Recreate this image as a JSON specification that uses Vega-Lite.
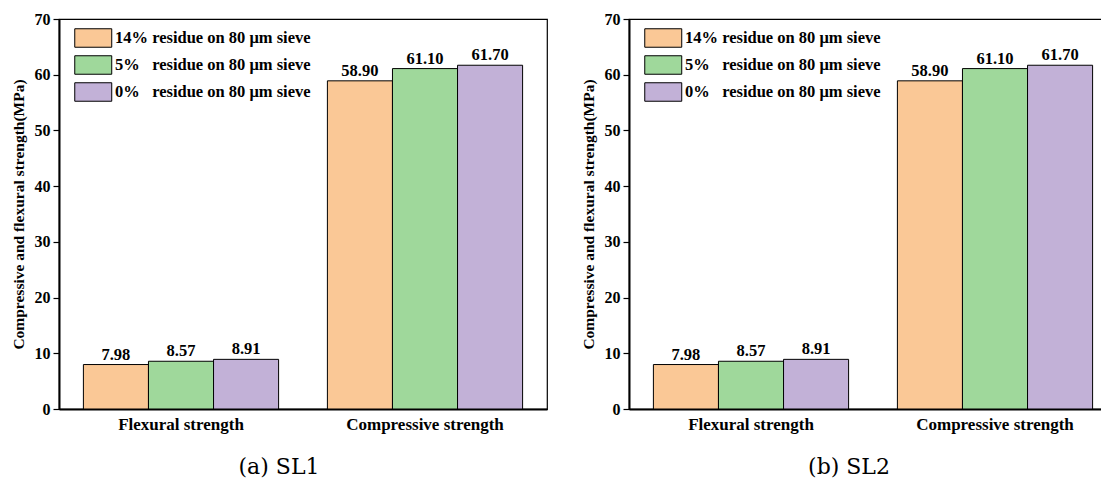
{
  "$schema": "https://vega.github.io/schema/vega-lite/v6.json",
  "background": "white",
  "padding": {"left": 10, "top": 10, "right": 0, "bottom": 0},
  "spacing": 32,
  "datasets": {
    "d": [
      {"property": "Flexural strength", "residue": "14% residue on 80 μm sieve", "value": 7.98},
      {"property": "Flexural strength", "residue": "5%\u00a0\u00a0\u00a0residue on 80 μm sieve", "value": 8.57},
      {"property": "Flexural strength", "residue": "0%\u00a0\u00a0\u00a0residue on 80 μm sieve", "value": 8.91},
      {"property": "Compressive strength", "residue": "14% residue on 80 μm sieve", "value": 58.9},
      {"property": "Compressive strength", "residue": "5%\u00a0\u00a0\u00a0residue on 80 μm sieve", "value": 61.1},
      {"property": "Compressive strength", "residue": "0%\u00a0\u00a0\u00a0residue on 80 μm sieve", "value": 61.7}
    ]
  },
  "config": {
    "font": "Liberation Serif",
    "view": {"stroke": "#000000", "strokeWidth": 1.2},
    "axis": {
      "grid": false,
      "domainColor": "#000000",
      "domainWidth": 2,
      "tickColor": "#000000",
      "tickWidth": 1.2,
      "labelColor": "#000000",
      "titleColor": "#000000",
      "labelFont": "Liberation Serif",
      "titleFont": "Liberation Serif",
      "labelFontWeight": "bold",
      "titleFontWeight": "bold"
    },
    "legend": {
      "labelFont": "Liberation Serif",
      "labelFontWeight": "bold",
      "labelFontSize": 16.5,
      "labelColor": "#000000",
      "labelLimit": 0
    },
    "title": {"font": "DejaVu Serif", "fontSize": 22, "fontWeight": "normal", "color": "#000000", "frame": "bounds"}
  },
  "resolve": {"scale": {"color": "independent"}, "legend": {"color": "independent"}},
  "hconcat": [
    {
      "width": 488,
      "height": 390,
      "title": {"text": "(a) SL1", "orient": "bottom", "offset": 25},
      "data": {"name": "d"},
      "encoding": {
        "x": {"field": "property", "type": "nominal", "sort": ["Flexural strength", "Compressive strength"],
          "scale": {"paddingInner": 0.2, "paddingOuter": 0.1},
          "axis": {"title": null, "labelAngle": 0, "ticks": false, "labelFontSize": 17, "labelPadding": 7}},
        "xOffset": {"field": "residue", "type": "nominal",
          "sort": ["14% residue on 80 μm sieve", "5%\u00a0\u00a0\u00a0residue on 80 μm sieve", "0%\u00a0\u00a0\u00a0residue on 80 μm sieve"],
          "scale": {"paddingInner": 0, "paddingOuter": 0}},
        "y": {"field": "value", "type": "quantitative", "scale": {"domain": [0, 70]},
          "axis": {"values": [0, 10, 20, 30, 40, 50, 60, 70], "title": "Compressive and flexural strength(MPa)",
            "labelFontSize": 16, "titleFontSize": 15.5, "tickSize": 6, "labelPadding": 3, "titlePadding": 8}}
      },
      "layer": [
        {
          "mark": {"type": "bar", "stroke": "#000000", "strokeWidth": 1},
          "encoding": {
            "color": {"field": "residue", "type": "nominal",
              "scale": {"domain": ["14% residue on 80 μm sieve", "5%\u00a0\u00a0\u00a0residue on 80 μm sieve", "0%\u00a0\u00a0\u00a0residue on 80 μm sieve"],
                "range": ["#FAC896", "#9FD89B", "#C2B1D7"]},
              "legend": {"title": null, "orient": "none", "legendX": 15, "legendY": 9,
                "symbolType": "M-1,-1H3V1H-1Z", "symbolSize": 342, "symbolStrokeColor": "#000000",
                "symbolStrokeWidth": 1, "symbolOpacity": 1, "labelOffset": 21, "rowPadding": 3}}
          }
        },
        {
          "mark": {"type": "text", "baseline": "bottom", "dy": -2, "fontSize": 16.5, "fontWeight": "bold", "font": "Liberation Serif", "color": "#000000"},
          "encoding": {"text": {"field": "value", "type": "quantitative", "format": ".2f"}}
        }
      ]
    },
    {
      "width": 488,
      "height": 390,
      "title": {"text": "(b) SL2", "orient": "bottom", "offset": 25},
      "data": {"name": "d"},
      "encoding": {
        "x": {"field": "property", "type": "nominal", "sort": ["Flexural strength", "Compressive strength"],
          "scale": {"paddingInner": 0.2, "paddingOuter": 0.1},
          "axis": {"title": null, "labelAngle": 0, "ticks": false, "labelFontSize": 17, "labelPadding": 7}},
        "xOffset": {"field": "residue", "type": "nominal",
          "sort": ["14% residue on 80 μm sieve", "5%\u00a0\u00a0\u00a0residue on 80 μm sieve", "0%\u00a0\u00a0\u00a0residue on 80 μm sieve"],
          "scale": {"paddingInner": 0, "paddingOuter": 0}},
        "y": {"field": "value", "type": "quantitative", "scale": {"domain": [0, 70]},
          "axis": {"values": [0, 10, 20, 30, 40, 50, 60, 70], "title": "Compressive and flexural strength(MPa)",
            "labelFontSize": 16, "titleFontSize": 15.5, "tickSize": 6, "labelPadding": 3, "titlePadding": 8}}
      },
      "layer": [
        {
          "mark": {"type": "bar", "stroke": "#000000", "strokeWidth": 1},
          "encoding": {
            "color": {"field": "residue", "type": "nominal",
              "scale": {"domain": ["14% residue on 80 μm sieve", "5%\u00a0\u00a0\u00a0residue on 80 μm sieve", "0%\u00a0\u00a0\u00a0residue on 80 μm sieve"],
                "range": ["#FAC896", "#9FD89B", "#C2B1D7"]},
              "legend": {"title": null, "orient": "none", "legendX": 15, "legendY": 9,
                "symbolType": "M-1,-1H3V1H-1Z", "symbolSize": 342, "symbolStrokeColor": "#000000",
                "symbolStrokeWidth": 1, "symbolOpacity": 1, "labelOffset": 21, "rowPadding": 3}}
          }
        },
        {
          "mark": {"type": "text", "baseline": "bottom", "dy": -2, "fontSize": 16.5, "fontWeight": "bold", "font": "Liberation Serif", "color": "#000000"},
          "encoding": {"text": {"field": "value", "type": "quantitative", "format": ".2f"}}
        }
      ]
    }
  ]
}
